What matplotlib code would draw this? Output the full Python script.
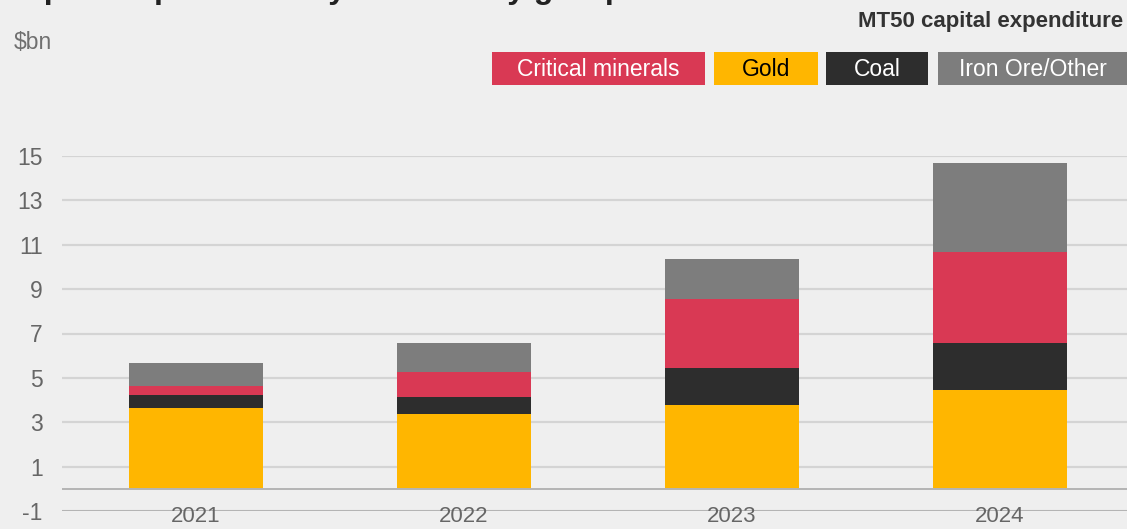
import matplotlib.pyplot as plt
from matplotlib.patches import Rectangle

plt.rcParams['font.family'] = ['Liberation Sans', 'DejaVu Sans']

# MT50 capital expenditure by commodity, $bn
years = ['2021', '2022', '2023', '2024']
gold = [3.66, 3.35, 3.77, 4.46]
coal = [0.59, 0.81, 1.69, 2.10]
critical = [0.40, 1.11, 3.08, 4.10]
iron_other = [1.03, 1.29, 1.82, 4.02]

series = [
    ('Gold', gold, '#FFB600'),
    ('Coal', coal, '#2D2D2D'),
    ('Critical minerals', critical, '#D93954'),
    ('Iron Ore/Other', iron_other, '#7D7D7D'),
]

bg = '#EFEFEF'
W, H = 1127, 529
fig = plt.figure(figsize=(W / 100, H / 100), dpi=100, facecolor=bg)
ax = fig.add_axes([62 / W, 18 / H, (W - 62) / W, 355 / H], facecolor=bg)

x = list(range(len(years)))
bottom = [0.0] * len(years)
for name, vals, col in series:
    ax.bar(x, vals, width=0.5, bottom=bottom, color=col, zorder=3)
    bottom = [b + v for b, v in zip(bottom, vals)]

ax.set_xlim(-0.5, 3.5 - 7 / 268)
ax.set_ylim(-1, 15)
yt = list(range(-1, 16, 2))
ax.set_yticks(yt)
ax.set_yticklabels([str(v) for v in yt])
ax.set_xticks(x)
ax.set_xticklabels(years)

for v in yt:
    ax.axhline(v, color='#D4D4D4', lw=1.6, zorder=1)
ax.axhline(0, color='#B4B4B4', lw=1.4, zorder=4)
ax.axhline(-1, color='#B4B4B4', lw=1.4, zorder=1)

for s in ax.spines.values():
    s.set_visible(False)
ax.tick_params(axis='y', length=0, pad=14, labelsize=16.5, labelcolor='#666666')
ax.tick_params(axis='x', length=0, pad=-3.5, labelsize=16, labelcolor='#666666')

# headings
fig.text(3 / W, 1 + 2 / H, 'Capital expenditure by commodity group',
         fontsize=23, fontweight='bold', color='#222222', va='baseline')
fig.text(14 / W, 1 - 49 / H, '$bn', fontsize=16.5, color='#707070', va='baseline')
fig.text(1123 / W, 1 - 27 / H, 'MT50 capital expenditure', fontsize=16,
         fontweight='bold', color='#333333', ha='right', va='baseline')

# legend chips
chips = [
    ('Critical minerals', 492, 705, '#D93954', 'white'),
    ('Gold', 714, 818, '#FFB600', 'black'),
    ('Coal', 826, 928, '#2D2D2D', 'white'),
    ('Iron Ore/Other', 938, 1127, '#7D7D7D', 'white'),
]
y0, y1 = 52, 85
for label, xa, xb, col, tc in chips:
    fig.add_artist(Rectangle((xa / W, 1 - y1 / H), (xb - xa) / W, (y1 - y0) / H,
                             transform=fig.transFigure, facecolor=col,
                             edgecolor='none'))
    fig.text((xa + xb) / 2 / W, 1 - (y0 + y1 + 2) / 2 / H, label, fontsize=16.5,
             color=tc, ha='center', va='center')

fig.savefig('out.png', dpi=100, facecolor=bg)
